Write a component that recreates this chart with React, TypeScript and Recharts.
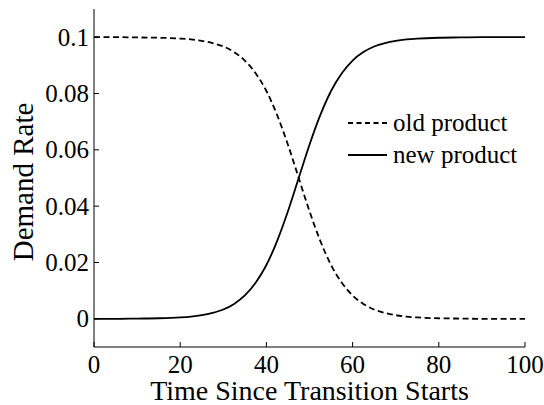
import React from 'react';
import { LineChart, Line, XAxis, YAxis, Legend } from 'recharts';

const times = [0, 5, 10, 15, 20, 22.5, 25, 27.5, 30, 32.5, 35, 37.5, 40, 42.5, 45, 47.5, 50, 52.5, 55, 57.5, 60, 62.5, 65, 67.5, 70, 72.5, 75, 80, 85, 90, 95, 100];
const oldProduct = [0.1, 0.1, 0.0999, 0.0998, 0.0995, 0.0992, 0.0987, 0.0979, 0.0967, 0.0947, 0.0917, 0.0872, 0.0809, 0.0723, 0.0618, 0.05, 0.0382, 0.0277, 0.0191, 0.0128, 0.0083, 0.0053, 0.0033, 0.0021, 0.0013, 0.0008, 0.0005, 0.0002, 0.0001, 0, 0, 0];
const newProduct = [0, 0, 0.0001, 0.0002, 0.0005, 0.0008, 0.0013, 0.0021, 0.0033, 0.0053, 0.0083, 0.0128, 0.0191, 0.0277, 0.0382, 0.05, 0.0618, 0.0723, 0.0809, 0.0872, 0.0917, 0.0947, 0.0967, 0.0979, 0.0987, 0.0992, 0.0995, 0.0998, 0.0999, 0.1, 0.1, 0.1];
const xTicks = [0, 20, 40, 60, 80, 100];
const yTicks = [0, 0.02, 0.04, 0.06, 0.08, 0.1];
const seriesNames = ['old product', 'new product'];

const data = times.map((t, i) => ({ t, oldP: oldProduct[i], newP: newProduct[i] }));

const FONT = '"Liberation Serif", "Times New Roman", serif';

const XTick = (props: any) => {
  const { x, y, payload } = props;
  return (
    <g>
      <line x1={x} y1={y} x2={x} y2={y - 5} stroke="#000" strokeWidth={1} />
      <text x={x} y={y + 26} textAnchor="middle" fontFamily={FONT} fontSize={25} fill="#000">
        {payload.value}
      </text>
    </g>
  );
};

const YTick = (props: any) => {
  const { x, y, payload } = props;
  return (
    <g>
      <line x1={x} y1={y} x2={x + 5} y2={y} stroke="#000" strokeWidth={1} />
      <text x={x - 5} y={y + 8.5} textAnchor="end" fontFamily={FONT} fontSize={25} fill="#000">
        {String(payload.value)}
      </text>
    </g>
  );
};

const LegendContent = () => (
  <div style={{ fontFamily: FONT, fontSize: 25, color: '#000', lineHeight: '32px' }}>
    {seriesNames.map((name, i) => (
      <div key={name} style={{ display: 'flex', alignItems: 'center', height: 32 }}>
        <svg width={39} height={10} style={{ marginRight: 6 }}>
          <line x1={0} y1={5} x2={39} y2={5} stroke="#000" strokeWidth={1.8} strokeDasharray={i === 0 ? '5 3.5' : undefined} />
        </svg>
        <span>{name}</span>
      </div>
    ))}
  </div>
);

export default function App() {
  return (
    <div style={{ position: 'absolute', left: 0, top: 0, background: '#fff' }}>
      <LineChart width={544} height={405} data={data} margin={{ top: 9, right: 19, left: 0, bottom: 0 }}>
        <XAxis
          dataKey="t"
          type="number"
          domain={[0, 100]}
          ticks={xTicks}
          tickSize={0}
          tickMargin={0}
          tickLine={false}
          tick={<XTick />}
          height={58}
          axisLine={{ stroke: '#000', strokeWidth: 1 }}
          label={{
            content: (p: any) => {
              const vb = p.viewBox;
              return (
                <text x={vb.x + vb.width / 2} y={vb.y + 53} textAnchor="middle" fontFamily={FONT} fontSize={28} fill="#000">
                  Time Since Transition Starts
                </text>
              );
            },
          }}
        />
        <YAxis
          type="number"
          domain={[-0.01, 0.11]}
          ticks={yTicks}
          tickSize={0}
          tickMargin={0}
          tickLine={false}
          tick={<YTick />}
          width={94}
          axisLine={{ stroke: '#000', strokeWidth: 1 }}
          label={{
            content: (p: any) => {
              const vb = p.viewBox;
              const cy = vb.y + vb.height / 2 + 4;
              return (
                <text x={33} y={cy} transform={`rotate(-90, 33, ${cy})`} textAnchor="middle" fontFamily={FONT} fontSize={29} fill="#000">
                  Demand Rate
                </text>
              );
            },
          }}
        />
        <Legend
          content={<LegendContent />}
          layout="vertical"
          align="center"
          verticalAlign="middle"
          wrapperStyle={{ position: 'absolute', left: 348, top: 107, width: 190 }}
        />
        <Line type="monotone" dataKey="oldP" stroke="#000" strokeWidth={1.8} strokeDasharray="6 3.5" dot={false} isAnimationActive={false} />
        <Line type="monotone" dataKey="newP" stroke="#000" strokeWidth={1.8} dot={false} isAnimationActive={false} />
      </LineChart>
    </div>
  );
}
